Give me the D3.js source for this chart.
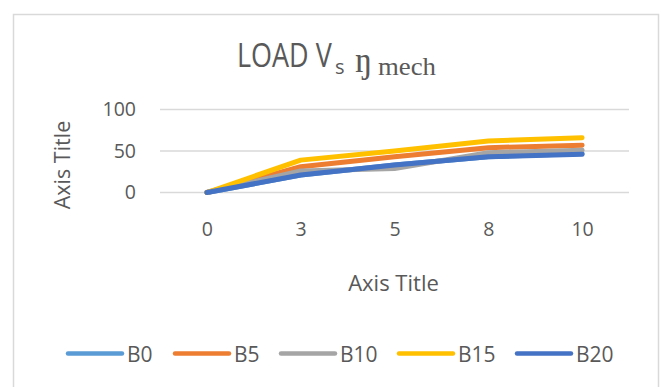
<!DOCTYPE html>
<html>
<head>
<meta charset="utf-8">
<script src="https://cdn.jsdelivr.net/npm/d3@7"></script>
<style>
  html, body { margin: 0; padding: 0; background: #fff; }
  svg { display: block; }
  text { font-family: "Open Sans", "Liberation Sans", sans-serif; fill: #595959; }
  .serif { font-family: "Liberation Serif", "Times New Roman", serif; }
</style>
</head>
<body>
<svg id="chart" width="662" height="387"></svg>
<script>
// Load levels on the category axis
const loads = ["0", "3", "5", "8", "10"];
// Mechanical efficiency for each blend
const B0  = [0, 21, 33, 43, 47];
const B5  = [0, 31, 43, 54, 57];
const B10 = [0, 26, 29, 48, 51];
const B15 = [0, 39, 50, 62, 66];
const B20 = [0, 21, 33, 43, 46];
const seriesNames = ["B0", "B5", "B10", "B15", "B20"];
const yTicks = [0, 50, 100];

const seriesValues = [B0, B5, B10, B15, B20];
const colors = ["#5B9BD5", "#ED7D31", "#A5A5A5", "#FFC000", "#4472C4"];

const svg = d3.select("#chart");

// chart area frame
svg.append("rect")
  .attr("x", 13.5).attr("y", 14.5)
  .attr("width", 645).attr("height", 400)
  .attr("fill", "#fff").attr("stroke", "#d9d9d9").attr("stroke-width", 1.5);

const plot = { left: 160, right: 629, top: 109.5, bottom: 192.5 };

const x = d3.scalePoint().domain(loads).range([plot.left, plot.right]).padding(0.5);
const y = d3.scaleLinear().domain([0, 100]).range([plot.bottom, plot.top]);

// horizontal gridlines
svg.append("g")
  .selectAll("line").data(yTicks).join("line")
  .attr("x1", plot.left).attr("x2", plot.right)
  .attr("y1", d => y(d)).attr("y2", d => y(d))
  .attr("stroke", "#d9d9d9").attr("stroke-width", 1.5);

// y axis labels
const yAxis = d3.axisLeft(y).tickValues(yTicks).tickSize(0).tickPadding(0);
const gy = svg.append("g").attr("transform", "translate(136,0)").call(yAxis);
gy.select(".domain").remove();
gy.selectAll("text").attr("font-size", 19.5).attr("fill", "#595959")
  .style("font-family", "'Open Sans', sans-serif");

// x axis labels
const xAxis = d3.axisBottom(x).tickSize(0).tickPadding(0);
const gx = svg.append("g").attr("transform", "translate(0,222)").call(xAxis);
gx.select(".domain").remove();
gx.selectAll("text").attr("font-size", 19.5).attr("fill", "#595959")
  .style("font-family", "'Open Sans', sans-serif");

// series lines
const line = d3.line().x((d, i) => x(loads[i])).y(d => y(d));
svg.append("g").selectAll("path").data(seriesValues).join("path")
  .attr("d", d => line(d))
  .attr("fill", "none")
  .attr("stroke", (d, i) => colors[i])
  .attr("stroke-width", 5)
  .attr("stroke-linejoin", "round")
  .attr("stroke-linecap", "round");

// title: LOAD Vs ŋmech
const tg = svg.append("g");
tg.append("text").attr("transform", "translate(237,66.5) scale(0.83,1)")
  .attr("font-size", 32.5).text("LOAD V");
const sub = tg.append("text");
sub.append("tspan").attr("x", 335).attr("y", 73.5).attr("font-size", 20).text("s");
sub.append("tspan").attr("class", "serif").attr("x", 355).attr("y", 71.5).attr("font-size", 35).text("ŋ");
sub.append("tspan").attr("class", "serif").attr("x", 378).attr("y", 74.5).attr("font-size", 25)
  .attr("textLength", 58).attr("lengthAdjust", "spacingAndGlyphs").text("mech");

// axis titles
svg.append("text").attr("x", 393.5).attr("y", 291).attr("text-anchor", "middle")
  .attr("font-size", 22).text("Axis Title");
svg.append("text").attr("transform", "translate(70,165) rotate(-90)")
  .attr("text-anchor", "middle").attr("font-size", 21.5).text("Axis Title");

// legend
const legendX = [68, 175, 281, 399, 517];
const lg = svg.append("g").selectAll("g").data(seriesNames).join("g")
  .attr("transform", (d, i) => `translate(${legendX[i]},353.5)`);
lg.append("line").attr("x1", 0).attr("x2", 54).attr("y1", 0).attr("y2", 0)
  .attr("stroke", (d, i) => colors[i]).attr("stroke-width", 4.5).attr("stroke-linecap", "round");
lg.append("text").attr("x", 59).attr("y", 8).attr("font-size", 21).text(d => d);
</script>
</body>
</html>
